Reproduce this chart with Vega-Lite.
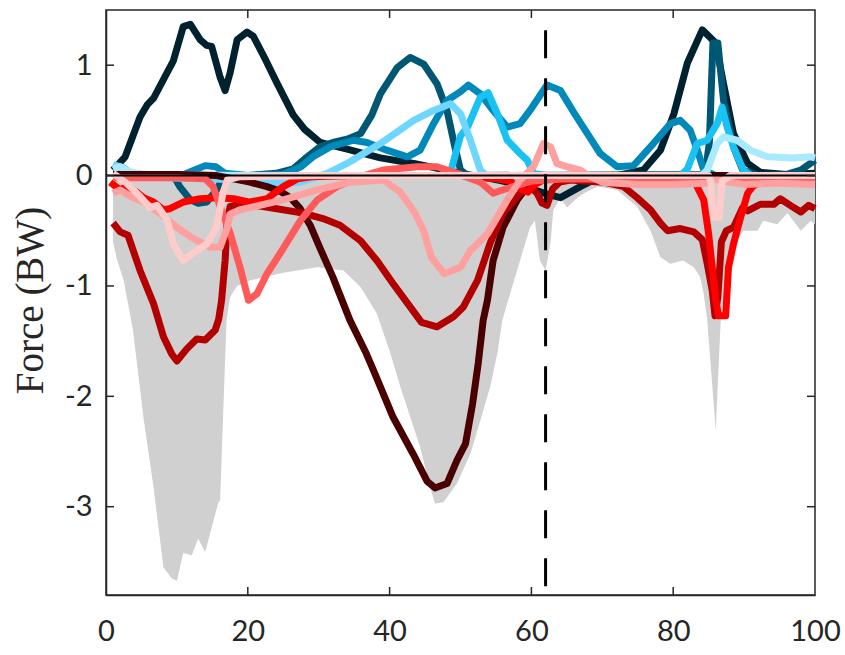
{
"$schema": "https://vega.github.io/schema/vega-lite/v6.json",
"width": 709, "height": 585,
"autosize": {"type": "none"},
"padding": {"left": 106, "top": 10, "right": 30, "bottom": 60},
"background": "white",
"config": {
  "view": {"stroke": "#262626", "strokeWidth": 1.5},
  "axis": {"domainColor": "#262626", "domainWidth": 1.5, "ticks": false, "labelFont": "Lato", "labelFontSize": 29, "labelColor": "#262626", "grid": false, "titleFont": "Liberation Serif", "titleFontSize": 39, "titleColor": "#262626", "titleFontWeight": "normal"}
},
"datasets": {
  "xt": [{"x":20},{"x":40},{"x":60},{"x":80}],
  "yt": [{"y":-3},{"y":-2},{"y":-1},{"y":0},{"y":1}],
  "band": [
    {"x":1,"lo":-0.6,"hi":-0.02},{"x":1.5,"lo":-0.75,"hi":-0.02},{"x":2.5,"lo":-0.95,"hi":-0.02},{"x":3.8,"lo":-1.4,"hi":-0.02},{"x":5.3,"lo":-2.2,"hi":-0.02},{"x":6.7,"lo":-2.82,"hi":-0.02},{"x":8.1,"lo":-3.55,"hi":-0.02},{"x":9.3,"lo":-3.65,"hi":-0.02},{"x":10,"lo":-3.67,"hi":-0.02},{"x":10.9,"lo":-3.42,"hi":-0.02},{"x":12.1,"lo":-3.44,"hi":-0.02},{"x":13,"lo":-3.29,"hi":-0.02},{"x":14,"lo":-3.41,"hi":-0.02},{"x":15.8,"lo":-2.97,"hi":-0.02},{"x":16.1,"lo":-2.94,"hi":-0.02},{"x":16.5,"lo":-2.2,"hi":-0.02},{"x":17,"lo":-1.31,"hi":-0.02},{"x":17.5,"lo":-1.1,"hi":-0.02},{"x":18.5,"lo":-1.0,"hi":-0.02},{"x":20.3,"lo":-0.95,"hi":-0.02},{"x":25,"lo":-0.88,"hi":-0.02},{"x":29.8,"lo":-0.83,"hi":-0.02},{"x":33.5,"lo":-0.86,"hi":-0.02},{"x":35.9,"lo":-1.01,"hi":-0.02},{"x":38.2,"lo":-1.25,"hi":-0.02},{"x":40.1,"lo":-1.61,"hi":-0.02},{"x":41.5,"lo":-1.91,"hi":-0.02},{"x":44.3,"lo":-2.46,"hi":-0.02},{"x":45.7,"lo":-2.82,"hi":-0.02},{"x":46.4,"lo":-2.97,"hi":-0.02},{"x":47.6,"lo":-2.96,"hi":-0.02},{"x":49.5,"lo":-2.79,"hi":-0.02},{"x":51.4,"lo":-2.52,"hi":-0.02},{"x":52.8,"lo":-2.22,"hi":-0.02},{"x":54.2,"lo":-1.91,"hi":-0.02},{"x":55.2,"lo":-1.61,"hi":-0.02},{"x":55.9,"lo":-1.31,"hi":-0.02},{"x":57,"lo":-1.07,"hi":-0.02},{"x":58.4,"lo":-0.77,"hi":-0.02},{"x":59.8,"lo":-0.47,"hi":-0.02},{"x":60.5,"lo":-0.41,"hi":-0.02},{"x":61.2,"lo":-0.77,"hi":-0.02},{"x":62,"lo":-0.86,"hi":-0.02},{"x":62.7,"lo":-0.61,"hi":-0.02},{"x":63.1,"lo":-0.31,"hi":-0.02},{"x":64.1,"lo":-0.2,"hi":-0.02},{"x":65,"lo":-0.29,"hi":-0.02},{"x":66.5,"lo":-0.2,"hi":-0.02},{"x":67.4,"lo":-0.16,"hi":-0.02},{"x":69.3,"lo":-0.1,"hi":-0.02},{"x":72.1,"lo":-0.13,"hi":-0.02},{"x":74.9,"lo":-0.28,"hi":-0.02},{"x":76.8,"lo":-0.5,"hi":-0.02},{"x":78.2,"lo":-0.74,"hi":-0.02},{"x":79.6,"lo":-0.8,"hi":-0.02},{"x":81.4,"lo":-0.77,"hi":-0.02},{"x":82.9,"lo":-0.83,"hi":-0.02},{"x":83.8,"lo":-0.92,"hi":-0.02},{"x":84.3,"lo":-1.07,"hi":-0.02},{"x":84.8,"lo":-1.31,"hi":-0.02},{"x":86,"lo":-2.31,"hi":-0.02},{"x":86.7,"lo":-1.31,"hi":-0.02},{"x":87.5,"lo":-0.9,"hi":-0.02},{"x":88.5,"lo":-0.65,"hi":-0.02},{"x":89.9,"lo":-0.5,"hi":-0.02},{"x":91.9,"lo":-0.5,"hi":-0.02},{"x":92.7,"lo":-0.41,"hi":-0.02},{"x":94.7,"lo":-0.44,"hi":-0.02},{"x":96.1,"lo":-0.34,"hi":-0.02},{"x":98,"lo":-0.5,"hi":-0.02},{"x":99.4,"lo":-0.41,"hi":-0.02},{"x":100,"lo":-0.44,"hi":-0.02}
  ],
  "lines": [
    {"s":"a","x":1,"y":0.05},{"s":"a","x":2.7,"y":0.17},{"s":"a","x":4.8,"y":0.53},{"s":"a","x":5.8,"y":0.64},{"s":"a","x":6.7,"y":0.7},{"s":"a","x":8.6,"y":0.93},{"s":"a","x":9.5,"y":1.04},{"s":"a","x":10.9,"y":1.35},{"s":"a","x":11.9,"y":1.37},{"s":"a","x":13.3,"y":1.23},{"s":"a","x":14.2,"y":1.18},{"s":"a","x":14.9,"y":1.17},{"s":"a","x":16.1,"y":0.89},{"s":"a","x":16.8,"y":0.77},{"s":"a","x":17.5,"y":0.93},{"s":"a","x":18.5,"y":1.23},{"s":"a","x":19.9,"y":1.3},{"s":"a","x":20.8,"y":1.26},{"s":"a","x":22.5,"y":1.05},{"s":"a","x":24.1,"y":0.84},{"s":"a","x":26.4,"y":0.55},{"s":"a","x":28,"y":0.42},{"s":"a","x":30.2,"y":0.3},{"s":"a","x":34,"y":0.24},{"s":"a","x":38.7,"y":0.16},{"s":"a","x":43.4,"y":0.11},{"s":"a","x":47.1,"y":0.06},{"s":"a","x":50,"y":0.02},{"s":"a","x":52.8,"y":-0.01},{"s":"a","x":56,"y":-0.05},{"s":"a","x":59,"y":-0.1},{"s":"a","x":62.3,"y":-0.17},{"s":"a","x":64.1,"y":-0.2},{"s":"a","x":66.9,"y":-0.1},{"s":"a","x":68.8,"y":-0.04},{"s":"a","x":72,"y":0},{"s":"a","x":75.8,"y":0.05},{"s":"a","x":78.2,"y":0.23},{"s":"a","x":80.1,"y":0.56},{"s":"a","x":82,"y":1.02},{"s":"a","x":84.1,"y":1.32},{"s":"a","x":86,"y":1.2},{"s":"a","x":87.1,"y":0.83},{"s":"a","x":88.5,"y":0.38},{"s":"a","x":90.5,"y":0.11},{"s":"a","x":92.3,"y":0.03},{"s":"a","x":96,"y":0.01},{"s":"a","x":100,"y":0.02},
    {"s":"b","x":1,"y":0.02},{"s":"b","x":9.5,"y":0},{"s":"b","x":10.4,"y":-0.1},{"s":"b","x":11.9,"y":-0.22},{"s":"b","x":13,"y":-0.25},{"s":"b","x":14.2,"y":-0.24},{"s":"b","x":15.6,"y":-0.13},{"s":"b","x":16.5,"y":-0.02},{"s":"b","x":20,"y":0},{"s":"b","x":24,"y":0.02},{"s":"b","x":26.4,"y":0.06},{"s":"b","x":28,"y":0.15},{"s":"b","x":30.2,"y":0.26},{"s":"b","x":32,"y":0.3},{"s":"b","x":34,"y":0.33},{"s":"b","x":35.9,"y":0.38},{"s":"b","x":37.5,"y":0.55},{"s":"b","x":38.7,"y":0.74},{"s":"b","x":41.1,"y":0.98},{"s":"b","x":42.9,"y":1.07},{"s":"b","x":44.8,"y":1.01},{"s":"b","x":46.7,"y":0.83},{"s":"b","x":48.1,"y":0.59},{"s":"b","x":49.1,"y":0.29},{"s":"b","x":50,"y":0.05},{"s":"b","x":51,"y":0},{"s":"b","x":84.5,"y":0.01},{"s":"b","x":85.1,"y":0.3},{"s":"b","x":85.6,"y":1.2},{"s":"b","x":86.3,"y":1.2},{"s":"b","x":87.1,"y":0.68},{"s":"b","x":88.5,"y":0.26},{"s":"b","x":89.8,"y":0.05},{"s":"b","x":92,"y":0},{"s":"b","x":96,"y":0.01},{"s":"b","x":98,"y":0.05},{"s":"b","x":100,"y":0.14},
    {"s":"c","x":1,"y":0.01},{"s":"c","x":11,"y":0.01},{"s":"c","x":12.5,"y":0.05},{"s":"c","x":14,"y":0.09},{"s":"c","x":15.5,"y":0.08},{"s":"c","x":16.8,"y":0.02},{"s":"c","x":20,"y":0},{"s":"c","x":25,"y":0.01},{"s":"c","x":27.5,"y":0.08},{"s":"c","x":29.2,"y":0.17},{"s":"c","x":31.6,"y":0.26},{"s":"c","x":34.9,"y":0.32},{"s":"c","x":36.8,"y":0.3},{"s":"c","x":39.6,"y":0.23},{"s":"c","x":42.5,"y":0.17},{"s":"c","x":44.3,"y":0.23},{"s":"c","x":46.2,"y":0.47},{"s":"c","x":48.1,"y":0.68},{"s":"c","x":50,"y":0.76},{"s":"c","x":51.1,"y":0.82},{"s":"c","x":52.8,"y":0.74},{"s":"c","x":54.6,"y":0.59},{"s":"c","x":56.6,"y":0.44},{"s":"c","x":58.4,"y":0.47},{"s":"c","x":59.8,"y":0.59},{"s":"c","x":62.2,"y":0.82},{"s":"c","x":64.1,"y":0.77},{"s":"c","x":65.9,"y":0.58},{"s":"c","x":67.9,"y":0.38},{"s":"c","x":69.7,"y":0.2},{"s":"c","x":72.1,"y":0.08},{"s":"c","x":74.4,"y":0.09},{"s":"c","x":77.2,"y":0.29},{"s":"c","x":79.6,"y":0.47},{"s":"c","x":81,"y":0.5},{"s":"c","x":82.4,"y":0.41},{"s":"c","x":83.4,"y":0.23},{"s":"c","x":84.3,"y":0.05},{"s":"c","x":86,"y":0},{"s":"c","x":100,"y":0},
    {"s":"d","x":1,"y":0},{"s":"d","x":47,"y":0},{"s":"d","x":48.6,"y":0.03},{"s":"d","x":50,"y":0.36},{"s":"d","x":51,"y":0.44},{"s":"d","x":52.8,"y":0.71},{"s":"d","x":53.9,"y":0.75},{"s":"d","x":55.2,"y":0.56},{"s":"d","x":56.6,"y":0.32},{"s":"d","x":58.4,"y":0.2},{"s":"d","x":59.4,"y":0.14},{"s":"d","x":60.3,"y":0.02},{"s":"d","x":62,"y":0},{"s":"d","x":81,"y":0},{"s":"d","x":82,"y":0.06},{"s":"d","x":83.4,"y":0.29},{"s":"d","x":84.8,"y":0.32},{"s":"d","x":86.2,"y":0.47},{"s":"d","x":86.9,"y":0.62},{"s":"d","x":87.6,"y":0.44},{"s":"d","x":88.5,"y":0.26},{"s":"d","x":89.9,"y":0.05},{"s":"d","x":91,"y":0},{"s":"d","x":100,"y":0},
    {"s":"e","x":1,"y":0.1},{"s":"e","x":2.5,"y":0.07},{"s":"e","x":4,"y":0},{"s":"e","x":8,"y":-0.02},{"s":"e","x":15,"y":-0.03},{"s":"e","x":20,"y":-0.04},{"s":"e","x":24,"y":-0.07},{"s":"e","x":27.4,"y":-0.06},{"s":"e","x":31.2,"y":0.02},{"s":"e","x":34,"y":0.11},{"s":"e","x":38.7,"y":0.29},{"s":"e","x":43.4,"y":0.5},{"s":"e","x":46.2,"y":0.59},{"s":"e","x":48.6,"y":0.65},{"s":"e","x":50,"y":0.56},{"s":"e","x":51.4,"y":0.32},{"s":"e","x":52.8,"y":0.05},{"s":"e","x":54,"y":-0.02},{"s":"e","x":60,"y":-0.02},{"s":"e","x":70,"y":0},{"s":"e","x":100,"y":0},
    {"s":"f","x":1,"y":0.06},{"s":"f","x":2,"y":0.08},{"s":"f","x":3,"y":0.04},{"s":"f","x":5,"y":0.01},{"s":"f","x":20,"y":0},{"s":"f","x":84,"y":0},{"s":"f","x":84.8,"y":0.05},{"s":"f","x":86.2,"y":0.29},{"s":"f","x":87.1,"y":0.35},{"s":"f","x":89,"y":0.32},{"s":"f","x":90.9,"y":0.23},{"s":"f","x":93.3,"y":0.17},{"s":"f","x":97,"y":0.16},{"s":"f","x":99.4,"y":0.17},{"s":"f","x":100,"y":0.16},
    {"s":"g","x":1,"y":0.01},{"s":"g","x":10,"y":0.01},{"s":"g","x":15.6,"y":0},{"s":"g","x":18,"y":-0.03},{"s":"g","x":20.3,"y":-0.06},{"s":"g","x":22.7,"y":-0.1},{"s":"g","x":24.5,"y":-0.14},{"s":"g","x":26,"y":-0.2},{"s":"g","x":27.4,"y":-0.3},{"s":"g","x":28.8,"y":-0.45},{"s":"g","x":30.2,"y":-0.66},{"s":"g","x":32,"y":-0.92},{"s":"g","x":34.4,"y":-1.31},{"s":"g","x":36.7,"y":-1.61},{"s":"g","x":37.7,"y":-1.76},{"s":"g","x":40.5,"y":-2.19},{"s":"g","x":43.3,"y":-2.52},{"s":"g","x":45.3,"y":-2.77},{"s":"g","x":46.4,"y":-2.83},{"s":"g","x":48.1,"y":-2.79},{"s":"g","x":49.5,"y":-2.58},{"s":"g","x":50.7,"y":-2.43},{"s":"g","x":51.7,"y":-2.07},{"s":"g","x":52.5,"y":-1.7},{"s":"g","x":53.2,"y":-1.31},{"s":"g","x":53.8,"y":-1.13},{"s":"g","x":54.6,"y":-0.77},{"s":"g","x":56,"y":-0.47},{"s":"g","x":58,"y":-0.22},{"s":"g","x":59.4,"y":-0.1},{"s":"g","x":61,"y":-0.04},{"s":"g","x":63,"y":-0.02},{"s":"g","x":70,"y":0},{"s":"g","x":100,"y":0},
    {"s":"h","x":1,"y":-0.43},{"s":"h","x":2,"y":-0.51},{"s":"h","x":3.1,"y":-0.54},{"s":"h","x":4.8,"y":-0.86},{"s":"h","x":6.7,"y":-1.16},{"s":"h","x":8.1,"y":-1.46},{"s":"h","x":9.3,"y":-1.62},{"s":"h","x":10,"y":-1.68},{"s":"h","x":11.4,"y":-1.57},{"s":"h","x":12.8,"y":-1.48},{"s":"h","x":14,"y":-1.49},{"s":"h","x":15.4,"y":-1.4},{"s":"h","x":15.9,"y":-1.3},{"s":"h","x":16.3,"y":-1.13},{"s":"h","x":16.8,"y":-0.77},{"s":"h","x":17.1,"y":-0.41},{"s":"h","x":17.5,"y":-0.28},{"s":"h","x":19,"y":-0.26},{"s":"h","x":21,"y":-0.27},{"s":"h","x":24.1,"y":-0.3},{"s":"h","x":27.8,"y":-0.34},{"s":"h","x":30.6,"y":-0.39},{"s":"h","x":33,"y":-0.45},{"s":"h","x":35.9,"y":-0.59},{"s":"h","x":38.2,"y":-0.77},{"s":"h","x":40.5,"y":-0.98},{"s":"h","x":42.9,"y":-1.19},{"s":"h","x":44.5,"y":-1.33},{"s":"h","x":46.7,"y":-1.37},{"s":"h","x":49,"y":-1.28},{"s":"h","x":50.4,"y":-1.19},{"s":"h","x":52.4,"y":-0.95},{"s":"h","x":54.2,"y":-0.61},{"s":"h","x":56,"y":-0.34},{"s":"h","x":58.4,"y":-0.16},{"s":"h","x":59.9,"y":-0.1},{"s":"h","x":60.8,"y":-0.16},{"s":"h","x":61.5,"y":-0.25},{"s":"h","x":62.2,"y":-0.27},{"s":"h","x":63,"y":-0.12},{"s":"h","x":64,"y":-0.06},{"s":"h","x":65.5,"y":-0.04},{"s":"h","x":70.2,"y":-0.06},{"s":"h","x":73,"y":-0.1},{"s":"h","x":74.9,"y":-0.2},{"s":"h","x":76.8,"y":-0.31},{"s":"h","x":78.2,"y":-0.43},{"s":"h","x":79.2,"y":-0.5},{"s":"h","x":81,"y":-0.48},{"s":"h","x":82.9,"y":-0.51},{"s":"h","x":84.1,"y":-0.58},{"s":"h","x":84.8,"y":-0.8},{"s":"h","x":85.5,"y":-1.04},{"s":"h","x":85.9,"y":-1.27},{"s":"h","x":86.3,"y":-1.1},{"s":"h","x":86.8,"y":-0.6},{"s":"h","x":87.5,"y":-0.5},{"s":"h","x":88.5,"y":-0.47},{"s":"h","x":89.8,"y":-0.29},{"s":"h","x":90.5,"y":-0.32},{"s":"h","x":92.3,"y":-0.26},{"s":"h","x":94.2,"y":-0.26},{"s":"h","x":95.1,"y":-0.21},{"s":"h","x":97,"y":-0.29},{"s":"h","x":98,"y":-0.33},{"s":"h","x":99.1,"y":-0.27},{"s":"h","x":100,"y":-0.3},
    {"s":"i","x":0.6,"y":-0.06},{"s":"i","x":2,"y":-0.13},{"s":"i","x":2.9,"y":-0.1},{"s":"i","x":4.3,"y":-0.15},{"s":"i","x":5.3,"y":-0.2},{"s":"i","x":6.7,"y":-0.24},{"s":"i","x":8.1,"y":-0.31},{"s":"i","x":9,"y":-0.3},{"s":"i","x":10.9,"y":-0.24},{"s":"i","x":13.3,"y":-0.21},{"s":"i","x":15.6,"y":-0.2},{"s":"i","x":18,"y":-0.21},{"s":"i","x":20.3,"y":-0.24},{"s":"i","x":22.7,"y":-0.21},{"s":"i","x":25,"y":-0.1},{"s":"i","x":27,"y":-0.03},{"s":"i","x":29,"y":-0.01},{"s":"i","x":35,"y":0},{"s":"i","x":50,"y":0},{"s":"i","x":55,"y":-0.03},{"s":"i","x":57,"y":-0.05},{"s":"i","x":58.5,"y":-0.12},{"s":"i","x":59.5,"y":-0.15},{"s":"i","x":60.5,"y":-0.08},{"s":"i","x":62,"y":-0.03},{"s":"i","x":70,"y":-0.02},{"s":"i","x":82.9,"y":-0.04},{"s":"i","x":84.3,"y":-0.22},{"s":"i","x":85,"y":-0.53},{"s":"i","x":86,"y":-1.13},{"s":"i","x":86.4,"y":-1.27},{"s":"i","x":87.4,"y":-1.27},{"s":"i","x":87.8,"y":-0.83},{"s":"i","x":88.5,"y":-0.62},{"s":"i","x":89.5,"y":-0.38},{"s":"i","x":90.5,"y":-0.16},{"s":"i","x":91.2,"y":-0.1},{"s":"i","x":93,"y":-0.03},{"s":"i","x":100,"y":-0.03},
    {"s":"j","x":1,"y":-0.02},{"s":"j","x":10,"y":-0.02},{"s":"j","x":14,"y":-0.03},{"s":"j","x":15.1,"y":-0.1},{"s":"j","x":16.1,"y":-0.28},{"s":"j","x":17.5,"y":-0.52},{"s":"j","x":18.9,"y":-0.83},{"s":"j","x":20.1,"y":-1.13},{"s":"j","x":21.3,"y":-1.07},{"s":"j","x":22.7,"y":-0.89},{"s":"j","x":25,"y":-0.66},{"s":"j","x":27.4,"y":-0.41},{"s":"j","x":29.8,"y":-0.22},{"s":"j","x":32.6,"y":-0.1},{"s":"j","x":35.9,"y":-0.01},{"s":"j","x":39.1,"y":0.05},{"s":"j","x":43.9,"y":0.08},{"s":"j","x":46.7,"y":0.08},{"s":"j","x":49.5,"y":0.02},{"s":"j","x":52.8,"y":-0.06},{"s":"j","x":54.6,"y":-0.16},{"s":"j","x":55.5,"y":-0.14},{"s":"j","x":57.4,"y":-0.1},{"s":"j","x":60,"y":-0.05},{"s":"j","x":65,"y":-0.03},{"s":"j","x":100,"y":-0.03},
    {"s":"k","x":1,"y":-0.16},{"s":"k","x":2,"y":-0.13},{"s":"k","x":3.8,"y":-0.2},{"s":"k","x":5.3,"y":-0.24},{"s":"k","x":7.6,"y":-0.34},{"s":"k","x":10,"y":-0.47},{"s":"k","x":12.3,"y":-0.57},{"s":"k","x":14.7,"y":-0.65},{"s":"k","x":16.1,"y":-0.65},{"s":"k","x":17.1,"y":-0.47},{"s":"k","x":17.5,"y":-0.35},{"s":"k","x":18.9,"y":-0.31},{"s":"k","x":20.3,"y":-0.29},{"s":"k","x":25,"y":-0.22},{"s":"k","x":29.8,"y":-0.13},{"s":"k","x":34.4,"y":-0.06},{"s":"k","x":39.1,"y":-0.04},{"s":"k","x":41.5,"y":-0.15},{"s":"k","x":43.5,"y":-0.33},{"s":"k","x":44.8,"y":-0.5},{"s":"k","x":45.9,"y":-0.74},{"s":"k","x":47.7,"y":-0.89},{"s":"k","x":50,"y":-0.83},{"s":"k","x":51.4,"y":-0.68},{"s":"k","x":53.8,"y":-0.53},{"s":"k","x":56.6,"y":-0.22},{"s":"k","x":58.4,"y":-0.04},{"s":"k","x":60.3,"y":0.08},{"s":"k","x":61.7,"y":0.29},{"s":"k","x":62.7,"y":0.26},{"s":"k","x":63.6,"y":0.11},{"s":"k","x":65,"y":0.08},{"s":"k","x":66.9,"y":0.05},{"s":"k","x":68,"y":0},{"s":"k","x":70,"y":-0.06},{"s":"k","x":75,"y":-0.08},{"s":"k","x":80,"y":-0.08},{"s":"k","x":85,"y":-0.07},{"s":"k","x":86,"y":-0.03},{"s":"k","x":87,"y":-0.05},{"s":"k","x":90,"y":-0.08},{"s":"k","x":95,"y":-0.07},{"s":"k","x":100,"y":-0.08},
    {"s":"l","x":1,"y":0.02},{"s":"l","x":2.9,"y":-0.07},{"s":"l","x":4.8,"y":-0.19},{"s":"l","x":6.2,"y":-0.29},{"s":"l","x":7.2,"y":-0.27},{"s":"l","x":8.6,"y":-0.4},{"s":"l","x":9.5,"y":-0.62},{"s":"l","x":10.9,"y":-0.77},{"s":"l","x":12.8,"y":-0.68},{"s":"l","x":14.2,"y":-0.62},{"s":"l","x":15.6,"y":-0.47},{"s":"l","x":16.5,"y":-0.16},{"s":"l","x":17.1,"y":-0.04},{"s":"l","x":18.9,"y":-0.01},{"s":"l","x":30,"y":0},{"s":"l","x":60,"y":0},{"s":"l","x":85,"y":0},{"s":"l","x":85.3,"y":-0.05},{"s":"l","x":85.7,"y":-0.38},{"s":"l","x":86.5,"y":-0.38},{"s":"l","x":86.9,"y":-0.05},{"s":"l","x":88,"y":0},{"s":"l","x":100,"y":0}
  ]
},
"layer": [
  {
    "data": {"name": "band"},
    "mark": {"type": "area", "color": "#d0d0d0", "opacity": 1},
    "encoding": {
      "x": {"field": "x", "type": "quantitative", "scale": {"domain": [0, 100], "nice": false, "zero": false},
        "axis": {"values": [0, 20, 40, 60, 80, 100], "title": null, "format": "d", "labelPadding": 22, "labelBaseline": "top", "labelFlush": false}},
      "y": {"field": "lo", "type": "quantitative", "scale": {"domain": [-3.8, 1.5], "nice": false, "zero": false},
        "axis": {"values": [-3, -2, -1, 0, 1], "title": "Force (BW)", "format": "d", "labelPadding": 14, "labelExpr": "replace(datum.label, '\u2212', '-')", "titleAngle": -90, "titleX": -64, "titleY": 290, "titleAlign": "center", "titleBaseline": "alphabetic"}},
      "y2": {"field": "hi"}
    }
  },
  {
    "data": {"name": "lines"},
    "mark": {"type": "line", "strokeWidth": 7, "strokeCap": "butt", "strokeJoin": "round"},
    "encoding": {
      "x": {"field": "x", "type": "quantitative"},
      "y": {"field": "y", "type": "quantitative"},
      "color": {"field": "s", "type": "nominal", "legend": null,
        "scale": {"domain": ["a","b","c","d","e","f","g","h","i","j","k","l"],
          "range": ["#00222e","#005774","#0089b9","#1ac2f4","#6fd6ff","#a9eaff","#4a0000","#b30000","#ff0000","#ff5a5a","#ffa0a0","#ffcccc"]}},
      "order": {"field": "x", "type": "quantitative"}
    }
  },
  {
    "data": {"values": [{"x": 0, "x2": 100, "y": 0}]},
    "mark": {"type": "rule", "color": "#000000", "strokeWidth": 2},
    "encoding": {
      "x": {"field": "x", "type": "quantitative"},
      "x2": {"field": "x2"},
      "y": {"field": "y", "type": "quantitative"}
    }
  },
  {
    "data": {"name": "xt"},
    "mark": {"type": "rule", "color": "#262626", "strokeWidth": 1.5},
    "encoding": {"x": {"field": "x", "type": "quantitative"}, "y": {"datum": -3.8}, "y2": {"datum": -3.7275}}
  },
  {
    "data": {"name": "xt"},
    "mark": {"type": "rule", "color": "#262626", "strokeWidth": 1.5},
    "encoding": {"x": {"field": "x", "type": "quantitative"}, "y": {"datum": 1.5}, "y2": {"datum": 1.4275}}
  },
  {
    "data": {"name": "yt"},
    "mark": {"type": "rule", "color": "#262626", "strokeWidth": 1.5},
    "encoding": {"y": {"field": "y", "type": "quantitative"}, "x": {"datum": 0}, "x2": {"datum": 1.13}}
  },
  {
    "data": {"name": "yt"},
    "mark": {"type": "rule", "color": "#262626", "strokeWidth": 1.5},
    "encoding": {"y": {"field": "y", "type": "quantitative"}, "x": {"datum": 100}, "x2": {"datum": 98.87}}
  },
  {
    "data": {"values": [{"x": 62, "y": 1.316, "y2": -3.8}]},
    "mark": {"type": "rule", "color": "#000000", "strokeWidth": 3, "strokeDash": [28, 20]},
    "encoding": {
      "x": {"field": "x", "type": "quantitative"},
      "y": {"field": "y", "type": "quantitative"},
      "y2": {"field": "y2"}
    }
  }
]
}
